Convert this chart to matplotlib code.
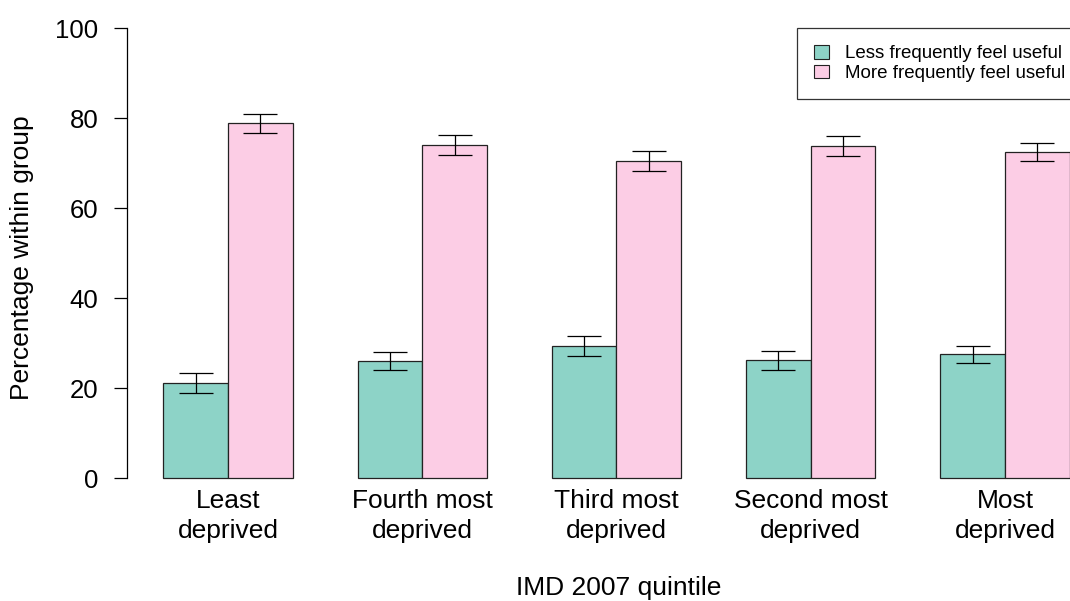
import numpy as np
import matplotlib
matplotlib.use("Agg")
import matplotlib.pyplot as plt

plt.rcParams['font.family'] = ['Liberation Sans', 'DejaVu Sans']

groups = ["Least\ndeprived", "Fourth most\ndeprived", "Third most\ndeprived",
          "Second most\ndeprived", "Most\ndeprived"]
series = ["Less frequently feel useful", "More frequently feel useful"]
less_vals = [21.1, 26.0, 29.4, 26.2, 27.5]
more_vals = [78.8, 74.0, 70.4, 73.8, 72.5]
less_err = [2.15, 2.0, 2.2, 2.1, 1.9]
more_err = [2.2, 2.2, 2.2, 2.2, 2.0]
colors = ["#8DD3C7", "#FCCDE5"]

fig = plt.figure(figsize=(10.7, 6.01), dpi=100)
# plot region (R style), extends past the right edge of the picture
ax = fig.add_axes([127 / 1070, 105 / 601, 979 / 1070, 486 / 601])

# R barplot(beside=TRUE): bars of width 1, one bar of space before each group
x_less = np.arange(len(groups)) * 3 + 1.5
x_more = x_less + 1

for xs, vals, errs, col, lab in [(x_less, less_vals, less_err, colors[0], series[0]),
                                 (x_more, more_vals, more_err, colors[1], series[1])]:
    ax.bar(xs, vals, width=1, color=col, edgecolor="#222222", linewidth=0.9, label=lab)
    ax.errorbar(xs, vals, yerr=errs, fmt="none", ecolor="black",
                elinewidth=0.9, capsize=12, capthick=0.9)

ax.set_xlim(0.44, 15.56)
ax.set_ylim(-4, 104)
for s in ["top", "right", "bottom"]:
    ax.spines[s].set_visible(False)
ax.spines["left"].set_bounds(0, 100)
ax.spines["left"].set_linewidth(0.9)
ax.set_yticks([0, 20, 40, 60, 80, 100])
ax.tick_params(axis="y", length=9.5, width=0.9, labelsize=18.5, pad=11)

ax.set_xticks((x_less + x_more) / 2)
ax.set_xticklabels(groups, fontsize=19, linespacing=1.3)
ax.tick_params(axis="x", length=0, pad=-5)

fig.text(22 / 1070, 1 - 258 / 601, "Percentage within group", rotation=90,
         ha="center", va="center", fontsize=19)
fig.text(619 / 1070, 1 - 595 / 601, "IMD 2007 quintile", ha="center",
         va="baseline", fontsize=19)

# legend sits at the top right of the plot region, so it runs off the picture like the original
leg = fig.legend(loc="upper left", bbox_to_anchor=(797 / 1070, 1 - 28 / 601),
                 fontsize=13.5, frameon=True, fancybox=False, edgecolor="black",
                 handlelength=0.8, handleheight=0.75, handletextpad=0.85,
                 borderpad=0.9, labelspacing=0.12, borderaxespad=0)
leg.get_frame().set_linewidth(0.9)
for h in leg.legend_handles:
    h.set_edgecolor("#222222")
    h.set_linewidth(0.8)

fig.savefig("out.png", dpi=100)
